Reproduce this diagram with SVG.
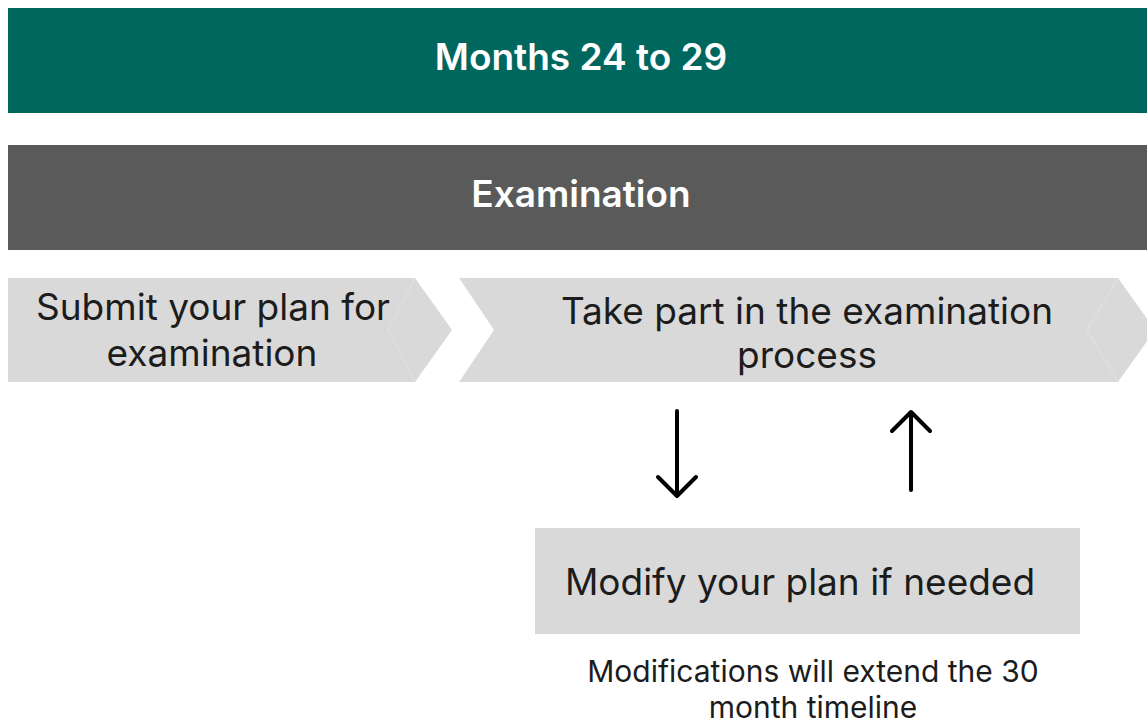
<svg xmlns="http://www.w3.org/2000/svg" width="1147" height="724" viewBox="0 0 1147 724">
  <style>
    .band-text { font-family: Inter, "Liberation Sans", sans-serif; font-weight: 600; font-size: 37px; fill: #ffffff; text-anchor: middle; }
    .step { fill: #d9d9d9; }
    .step-text { font-family: Inter, "Liberation Sans", sans-serif; font-size: 37px; fill: #1c1c1c; text-anchor: middle; }
    .note-text { font-family: Inter, "Liberation Sans", sans-serif; font-size: 30px; fill: #1c1c1c; text-anchor: middle; }
    .crease { fill: none; stroke: #dfdfdf; stroke-width: 1.5; }
    .arrow { fill: none; stroke: #000000; stroke-width: 4; stroke-linecap: round; stroke-linejoin: round; }
  </style>
  <rect width="1147" height="724" fill="#ffffff"/>

  <g id="period-band">
    <rect x="8" y="8" width="1139" height="105" fill="#00675f"/>
    <text class="band-text" x="581" y="70">Months 24 to 29</text>
  </g>

  <g id="stage-band">
    <rect x="8" y="145" width="1139" height="105" fill="#5a5a5a"/>
    <text class="band-text" x="581" y="207">Examination</text>
  </g>

  <g id="step-submit">
    <polygon class="step" points="8,278 415,278 452,330 415,382 8,382"/>
    <polyline class="crease" points="415,278 388,330 415,382"/>
    <text class="step-text" x="213" y="320">Submit your plan for</text>
    <text class="step-text" x="212" y="366">examination</text>
  </g>

  <g id="step-examination">
    <polygon class="step" points="459,278 1118,278 1155,330 1118,382 459,382 494,330"/>
    <polyline class="crease" points="1118,278 1087,330 1118,382"/>
    <text class="step-text" x="807" y="324">Take part in the examination</text>
    <text class="step-text" x="807" y="368">process</text>
  </g>

  <g id="step-modify">
    <rect class="step" x="535" y="528" width="545" height="106"/>
    <text class="step-text" x="800" y="595">Modify your plan if needed</text>
  </g>

  <g id="note-timeline">
    <text class="note-text" x="813" y="682">Modifications will extend the 30</text>
    <text class="note-text" x="813" y="718">month timeline</text>
  </g>

  <g id="connectors">
    <path class="arrow" d="M677,411 V496 M658,477 L677,496 L696,477"/>
    <path class="arrow" d="M911,490 V412 M892,431 L911,412 L930,431"/>
  </g>
</svg>
